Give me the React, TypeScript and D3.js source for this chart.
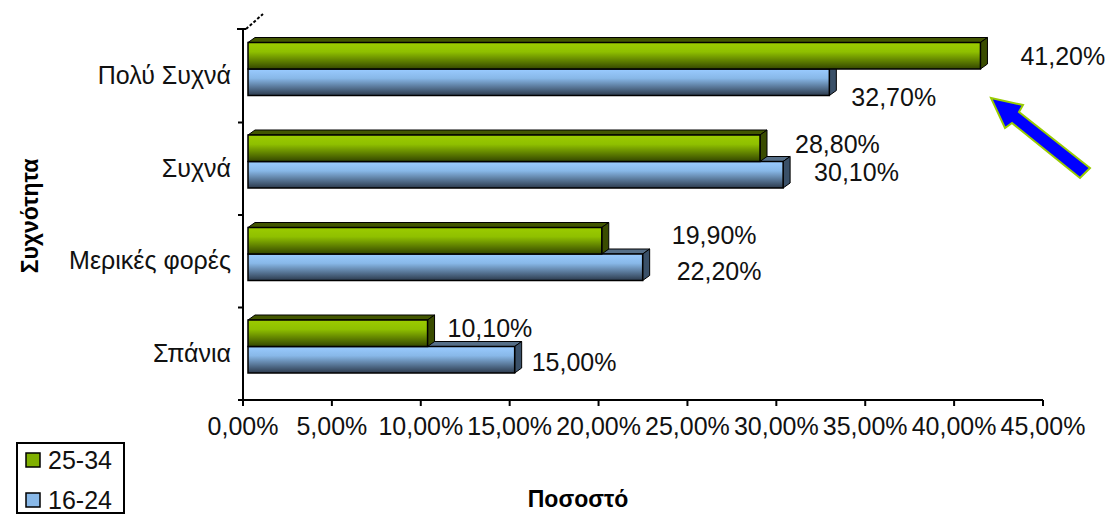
import * as d3 from "d3";

const categories = ["Πολύ Συχνά", "Συχνά", "Μερικές φορές", "Σπάνια"];
const seriesNames = ["25-34", "16-24"];
const values2534 = [41.2, 28.8, 19.9, 10.1];
const values1624 = [32.7, 30.1, 22.2, 15.0];
const xTicks = [0, 5, 10, 15, 20, 25, 30, 35, 40, 45];

// Excel put the data labels a bit irregularly: offsets from bar end / bar top
const labelNudge2534 = [
  [40, 14],
  [35, 9],
  [70, 8],
  [20, 8],
];
const labelNudge1624 = [
  [22, 28],
  [31, 11],
  [34, 17],
  [17, 16],
];

const W = 1114;
const H = 515;
const FONT = "'Liberation Sans', Arial, sans-serif";
const DX = 7; // 3D depth
const DY = 5;
const SHIFT = 5; // bars sit a bit behind the axis

const fmt = (v: number) => v.toFixed(2).replace(".", ",") + "%";

export default function App() {
  const x = d3.scaleLinear().domain([0, 45]).range([243, 1043]);
  const y = d3.scaleBand<string>().domain(categories).range([30, 400]);
  const inner = d3.scaleBand<string>().domain(seriesNames).range([12.5, 65.5]);

  const series = [
    { name: "25-34", values: values2534, grad: "gGreen", top: "#425600", side: "#3a4c00", nudge: labelNudge2534 },
    { name: "16-24", values: values1624, grad: "gBlue", top: "#566f88", side: "#3a5068", nudge: labelNudge1624 },
  ];

  const bar = (v: number, yTop: number, h: number, s: (typeof series)[0], key: string) => {
    const x0 = x(0) + SHIFT;
    const x1 = x(v) + SHIFT;
    const topFace = `M${x0},${yTop}L${x0 + DX},${yTop - DY}L${x1 + DX},${yTop - DY}L${x1},${yTop}Z`;
    const sideFace = `M${x1},${yTop}L${x1 + DX},${yTop - DY}L${x1 + DX},${yTop + h - DY}L${x1},${yTop + h}Z`;
    return (
      <g key={key}>
        <path d={topFace} fill={s.top} stroke="#000" strokeWidth={1} />
        <path d={sideFace} fill={s.side} stroke="#000" strokeWidth={1} />
        <rect x={x0} y={yTop} width={x1 - x0} height={h} fill={`url(#${s.grad})`} stroke="#000" strokeWidth={1.5} />
      </g>
    );
  };

  return (
    <svg width={W} height={H} style={{ position: "absolute", left: 0, top: 0, background: "#fff" }} fontFamily={FONT}>
      <defs>
        <linearGradient id="gGreen" x1="0" y1="0" x2="0" y2="1">
          <stop offset="0" stopColor="#9ccc00" />
          <stop offset="0.35" stopColor="#8fc000" />
          <stop offset="1" stopColor="#344600" />
        </linearGradient>
        <linearGradient id="gBlue" x1="0" y1="0" x2="0" y2="1">
          <stop offset="0" stopColor="#9acbff" />
          <stop offset="0.35" stopColor="#88b8e8" />
          <stop offset="1" stopColor="#2c3a4c" />
        </linearGradient>
      </defs>

      {/* bars: blue first, green on top */}
      {categories.map((c, i) => {
        const y0 = y(c)!;
        const h = inner.bandwidth();
        return (
          <g key={c}>
            {bar(series[1].values[i], y0 + inner("16-24")!, h, series[1], "b")}
            {bar(series[0].values[i], y0 + inner("25-34")!, h, series[0], "g")}
          </g>
        );
      })}

      {/* axes */}
      <line x1={x(0)} x2={x(0)} y1={30} y2={400} stroke="#000" strokeWidth={2} />
      <line x1={x(0) - 6} x2={x(0) + 3} y1={29} y2={29} stroke="#000" strokeWidth={2} />
      <line x1={x(0) + 3} x2={263} y1={29} y2={14} stroke="#000" strokeWidth={2} strokeDasharray="3,2" />
      <line x1={x(0)} x2={x(45)} y1={400} y2={400} stroke="#000" strokeWidth={2} />
      {xTicks.map((t) => (
        <g key={t}>
          <line x1={x(t)} x2={x(t)} y1={400} y2={406} stroke="#000" strokeWidth={2} />
          <text x={x(t)} y={435} textAnchor="middle" fontSize={25} fill="#111">
            {fmt(t)}
          </text>
        </g>
      ))}
      {categories.map((c) => (
        <line key={c} x1={x(0) - 5} x2={x(0)} y1={y(c)! + y.bandwidth()} y2={y(c)! + y.bandwidth()} stroke="#000" strokeWidth={2} />
      ))}
      {categories.map((c) => (
        <text key={c} x={231} y={y(c)! + y.bandwidth() / 2 - 1} dy="0.35em" textAnchor="end" fontSize={25} fill="#111">
          {c}
        </text>
      ))}

      {/* data labels */}
      {series.map((s) =>
        s.values.map((v, i) => {
          const yTop = y(categories[i])! + inner(s.name)!;
          return (
            <text key={s.name + i} x={x(v) + SHIFT + s.nudge[i][0]} y={yTop + s.nudge[i][1]} dy="0.35em" fontSize={25} fill="#111">
              {fmt(v)}
            </text>
          );
        })
      )}

      {/* axis titles */}
      <text transform={`translate(38,216) rotate(-90)`} textAnchor="middle" fontSize={23} fontWeight="bold" fill="#000">
        Συχνότητα
      </text>
      <text x={578} y={507} textAnchor="middle" fontSize={23} fontWeight="bold" fill="#000">
        Ποσοστό
      </text>

      {/* legend */}
      <rect x={17} y={443} width={107} height={70} fill="#fff" stroke="#000" strokeWidth={2} />
      {series.map((s, i) => (
        <g key={s.name} transform={`translate(0,${i * 40})`}>
          <rect x={26} y={453} width={14} height={14} fill={i === 0 ? "#80b000" : "#88b8e8"} stroke="#000" strokeWidth={1.5} />
          <text x={48} y={460} dy="0.35em" fontSize={25} fill="#111">
            {s.name}
          </text>
        </g>
      ))}

      {/* arrow */}
      <path
        d="M991,98 L1023,105 L1019,112 L1090,168 L1080,178 L1012,123 L1005,128 Z"
        fill="#0000ff"
        stroke="#99cc00"
        strokeWidth={2}
        strokeLinejoin="miter"
      />
    </svg>
  );
}
